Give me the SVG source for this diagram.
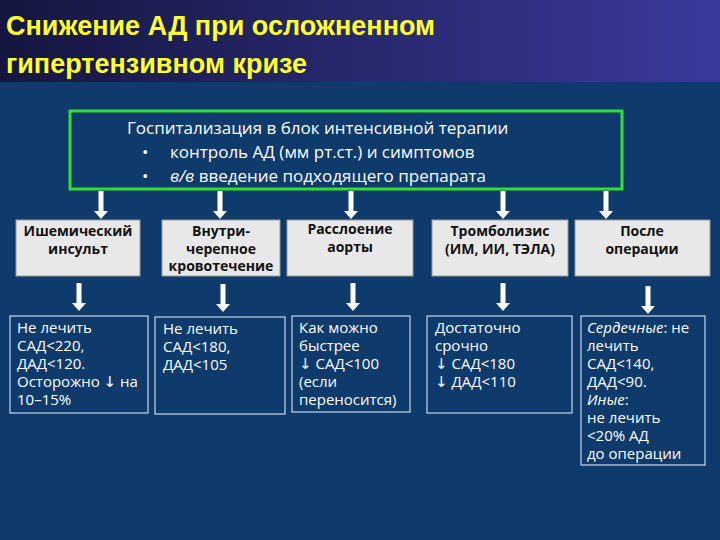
<svg xmlns="http://www.w3.org/2000/svg" width="720" height="540" viewBox="0 0 720 540">
<defs>
<linearGradient id="tg" x1="0" y1="0" x2="1" y2="0"><stop offset="0" stop-color="#15163f"/><stop offset="1" stop-color="#3a3a9c"/></linearGradient>
<path id="arr" d="M-2.5,0 H2.5 V20 H7 L0,28 L-7,20 H-2.5 Z" fill="#fff"/>
</defs>
<style>
.t{font-family:"Open Sans","DejaVu Sans",sans-serif;}
.title{font-family:"Liberation Sans",Arial,sans-serif;font-weight:bold;font-size:27px;fill:#ffff33;}
.hd{font-size:17px;fill:#fff;}
.g{fill:#e8e8e8;stroke:#9a9a9a;stroke-width:1;}
.gt{font-size:14px;font-weight:bold;fill:#111;text-anchor:middle;}
.b{fill:none;stroke:#c8d6ea;stroke-width:1.2;}
.bt{font-size:15px;fill:#fff;}
</style>
<rect width="720" height="540" fill="#0e3a6c"/>
<rect width="720" height="82" fill="url(#tg)"/>
<text class="title" x="6" y="35">Снижение АД при осложненном</text>
<text class="title" x="6" y="73">гипертензивном кризе</text>
<g id="top">
<rect x="70" y="111" width="552" height="78" fill="#0e3a6c" stroke="#33dd33" stroke-width="3"/>
<text class="t hd" x="127" y="134">Госпитализация в блок интенсивной терапии</text>
<text class="t hd" x="142" y="158">•</text>
<text class="t hd" x="170" y="158">контроль АД (мм рт.ст.) и симптомов</text>
<text class="t hd" x="142" y="182">•</text>
<text class="t hd" x="170" y="182"><tspan font-style="italic">в/в</tspan> введение подходящего препарата</text>
</g>
<g id="connectors">
<use href="#arr" x="101" y="191"/>
<use href="#arr" x="220" y="191"/>
<use href="#arr" x="351" y="191"/>
<use href="#arr" x="503" y="191"/>
<use href="#arr" x="606" y="191"/>
<use href="#arr" x="79" y="283"/>
<use href="#arr" x="223" y="284"/>
<use href="#arr" x="353" y="283"/>
<use href="#arr" x="503" y="283"/>
<use href="#arr" x="648" y="286"/>
</g>
<g id="n1"><rect class="g" x="16" y="220" width="124" height="56"/><text class="t gt" x="78" y="236">Ишемический</text><text class="t gt" x="78" y="254">инсульт</text></g>
<g id="n2"><rect class="g" x="162" y="220" width="118" height="56"/><text class="t gt" x="221" y="236">Внутри-</text><text class="t gt" x="221" y="254">черепное</text><text class="t gt" x="221" y="271">кровотечение</text></g>
<g id="n3"><rect class="g" x="287" y="220" width="126" height="56"/><text class="t gt" x="350" y="234">Расслоение</text><text class="t gt" x="350" y="252">аорты</text></g>
<g id="n4"><rect class="g" x="432" y="220" width="136" height="56"/><text class="t gt" x="500" y="236">Тромболизис</text><text class="t gt" x="500" y="254">(ИМ, ИИ, ТЭЛА)</text></g>
<g id="n5"><rect class="g" x="575" y="220" width="135" height="56"/><text class="t gt" x="642" y="236">После</text><text class="t gt" x="642" y="254">операции</text></g>
<g id="r1"><rect class="b" x="10" y="316" width="138" height="97"/><text class="t bt"><tspan x="17" y="333">Не лечить</tspan><tspan x="17" y="351">САД&lt;220,</tspan><tspan x="17" y="369">ДАД&lt;120.</tspan><tspan x="17" y="387">Осторожно ↓ на</tspan><tspan x="17" y="405">10–15%</tspan></text></g>
<g id="r2"><rect class="b" x="155" y="317" width="130" height="97"/><text class="t bt"><tspan x="163" y="334">Не лечить</tspan><tspan x="163" y="352">САД&lt;180,</tspan><tspan x="163" y="370">ДАД&lt;105</tspan></text></g>
<g id="r3"><rect class="b" x="292" y="316" width="118" height="96"/><text class="t bt"><tspan x="299" y="333">Как можно</tspan><tspan x="299" y="351">быстрее</tspan><tspan x="299" y="369">↓ САД&lt;100</tspan><tspan x="299" y="387">(если</tspan><tspan x="299" y="405">переносится)</tspan></text></g>
<g id="r4"><rect class="b" x="427" y="316" width="145" height="97"/><text class="t bt"><tspan x="435" y="333">Достаточно</tspan><tspan x="435" y="351">срочно</tspan><tspan x="435" y="369">↓ САД&lt;180</tspan><tspan x="435" y="387">↓ ДАД&lt;110</tspan></text></g>
<g id="r5"><rect class="b" x="581" y="316" width="124" height="149"/><text class="t bt"><tspan x="587" y="333"><tspan font-style="italic">Сердечные</tspan>:  не</tspan><tspan x="587" y="351">лечить</tspan><tspan x="587" y="369">САД&lt;140,</tspan><tspan x="587" y="387">ДАД&lt;90.</tspan><tspan x="587" y="405" font-style="italic">Иные</tspan><tspan>:</tspan><tspan x="587" y="423">не лечить</tspan><tspan x="587" y="441">&lt;20% АД</tspan><tspan x="587" y="459">до операции</tspan></text></g>
</svg>
